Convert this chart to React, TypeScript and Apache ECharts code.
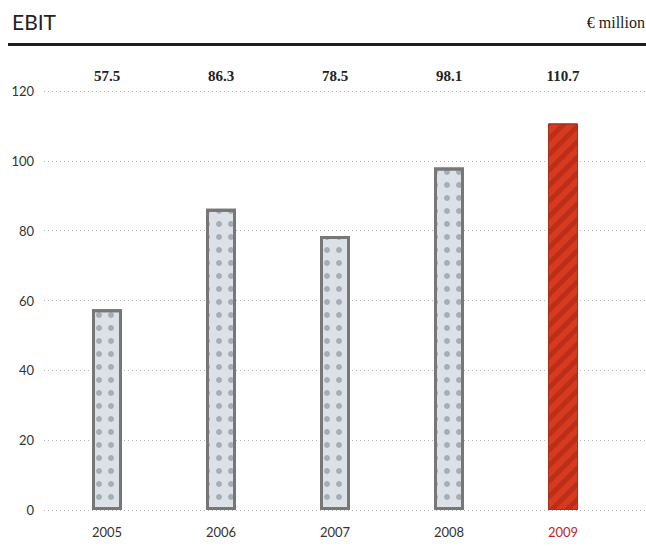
import React, { useEffect, useRef } from "react";
import * as echarts from "echarts";

const years = ["2005", "2006", "2007", "2008", "2009"];
const ebit = [57.5, 86.3, 78.5, 98.1, 110.7];
const valueLabels = ["57.5", "86.3", "78.5", "98.1", "110.7"];
const highlightYear = "2009";

export default function App() {
  const ref = useRef<HTMLDivElement>(null);
  useEffect(() => {
    if (!ref.current) return;
    const chart = echarts.init(ref.current, undefined, { renderer: "svg" });
    const grayStyle = {
      color: "#dce1e7",
      borderColor: "#797676",
      borderWidth: 3,
      decal: {
        symbol: "circle",
        symbolSize: 1,
        color: "rgba(100,108,118,0.45)",
        dashArrayX: [6, 6],
        dashArrayY: [6, 7],
      },
    };
    const redStyle = {
      color: "#d63b1f",
      borderColor: "#a8301c",
      borderWidth: 1,
      decal: {
        symbol: "rect",
        symbolSize: 1,
        rotation: -Math.PI / 4,
        color: "rgba(160,30,15,0.45)",
        dashArrayX: [1, 0],
        dashArrayY: [5, 6],
      },
    };
    chart.setOption({
      animation: false,
      title: {
        text: "EBIT",
        left: 7,
        top: 6,
        textStyle: { fontFamily: "Lato", fontSize: 21, fontWeight: "normal", color: "#222" },
      },
      graphic: [
        {
          type: "text",
          right: 1,
          top: 14,
          style: { text: "€ million", font: "16px 'Liberation Serif'", fill: "#222" },
        },
        {
          type: "rect",
          left: 8,
          top: 43,
          shape: { width: 638, height: 3 },
          style: { fill: "#1e1e1e" },
        },
      ],
      grid: [
        { left: 44, right: 0, top: 91, bottom: 45 },
        { left: 50, width: 570, top: 91, bottom: 45 },
      ],
      xAxis: [
        { gridIndex: 0, type: "value", show: false, min: 0, max: 1 },
        {
          gridIndex: 1,
          type: "category",
          data: years,
          position: "bottom",
          axisLine: { show: false },
          axisTick: { show: false },
          axisLabel: {
            margin: 15,
            fontFamily: "Lato",
            fontSize: 13,
            color: (v: string) => (v === highlightYear ? "#c0252b" : "#333"),
          },
        },
        {
          gridIndex: 1,
          type: "category",
          data: valueLabels,
          position: "top",
          axisLine: { show: false },
          axisTick: { show: false },
          axisLabel: {
            margin: 8,
            fontFamily: "Liberation Serif",
            fontWeight: "bold",
            fontSize: 15,
            color: "#222",
          },
        },
      ],
      yAxis: [
        {
          gridIndex: 0,
          type: "value",
          min: 0,
          max: 120,
          interval: 20,
          axisLine: { show: false },
          axisTick: { show: false },
          axisLabel: { margin: 10, fontFamily: "Lato", fontSize: 13, color: "#333" },
          splitLine: { lineStyle: { type: [1, 3], color: "#b5b5b5", width: 1 } },
        },
        {
          gridIndex: 1,
          type: "value",
          min: 0,
          max: 120,
          interval: 20,
          show: false,
          splitLine: { show: false },
        },
      ],
      series: [
        {
          type: "bar",
          xAxisIndex: 1,
          yAxisIndex: 1,
          barWidth: 30,
          data: ebit.map((v, i) => ({
            value: v,
            itemStyle: years[i] === highlightYear ? redStyle : grayStyle,
          })),
        },
      ],
    });
    return () => chart.dispose();
  }, []);
  return (
    <div
      ref={ref}
      style={{ position: "absolute", left: 0, top: 0, width: 646, height: 555, background: "#fff" }}
    />
  );
}
